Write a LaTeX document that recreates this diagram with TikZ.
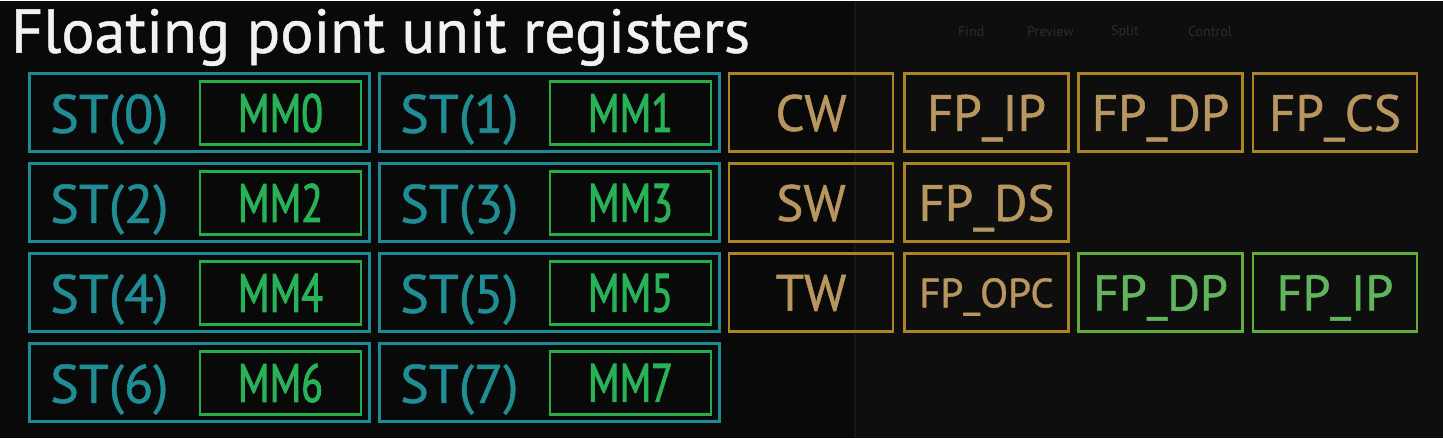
\documentclass[tikz,border=0pt]{standalone}
\usepackage{fontspec}
\setmainfont{PT Sans}
\newfontfamily\mmfont[FakeStretch=0.74,FakeBold=1.6]{PT Sans}
\newfontfamily\regfont[FakeBold=1.0]{PT Sans}
\newfontfamily\titlefont[FakeBold=0.8]{PT Sans}
\definecolor{bgcol}{RGB}{9,9,9}
\definecolor{bgright}{RGB}{14,14,14}
\definecolor{tealbox}{RGB}{30,138,148}
\definecolor{tealtxt}{RGB}{32,140,148}
\definecolor{mmbox}{RGB}{38,172,72}
\definecolor{mmtxt}{RGB}{40,178,88}
\definecolor{orbox}{RGB}{172,132,36}
\definecolor{ortxt}{RGB}{184,150,96}
\definecolor{lgbox}{RGB}{100,172,58}
\definecolor{lgtxt}{RGB}{96,180,92}
\definecolor{ghost}{RGB}{44,44,44}
\tikzset{
  stbox/.style={draw=tealbox,line width=3pt,minimum width=340pt,minimum height=78pt,inner sep=0pt},
  mmreg/.style={draw=mmbox,line width=2.6pt,minimum width=161pt,minimum height=63pt,inner sep=0pt,
     text=mmtxt,text depth=0pt,font=\mmfont\fontsize{54}{54}\selectfont},
  sttext/.style={text=tealtxt,anchor=base west,inner sep=0pt,font=\regfont\fontsize{54}{54}\selectfont},
  orreg/.style={draw=orbox,line width=2.6pt,minimum width=164pt,minimum height=78pt,inner sep=0pt,
     text=ortxt,text depth=0pt,font=\regfont\fontsize{51}{51}\selectfont},
  lgreg/.style={draw=lgbox,line width=2.6pt,minimum width=164pt,minimum height=78pt,inner sep=0pt,
     text=lgtxt,text depth=0pt,font=\regfont\fontsize{50}{50}\selectfont},
  ghosttxt/.style={text=ghost,anchor=west,inner sep=0pt,font=\fontsize{14}{14}\selectfont}
}
\begin{document}
\begin{tikzpicture}[x=1pt,y=-1pt]
\fill[bgcol] (0,0) rectangle (1443,437);
\fill[bgright] (855,0) rectangle (1443,437);
\draw[line width=1.5pt,color={rgb,255:red,22;green,22;blue,22}] (855,0) -- (855,437);
\useasboundingbox (0,0) rectangle (1443,437);

% faint UI ghost
\node[ghosttxt] (gfind) at (958,31) {Find};
\node[ghosttxt] (gprev) at (1027,31) {Preview};
\node[ghosttxt] (gsplit) at (1111,31) {Split};
\node[ghosttxt] (gctrl) at (1188,31) {Control};

% title
\node[anchor=base west,inner sep=0pt,text={rgb,255:red,242;green,242;blue,242},
      font=\titlefont\fontsize{62}{62}\selectfont] (title) at (11,52) {Floating point unit registers};

% ST / MM registers
\foreach \r/\cy in {0/112,1/202,2/292,3/382}{
  \pgfmathtruncatemacro{\a}{2*\r}
  \pgfmathtruncatemacro{\b}{2*\r+1}
  \node[stbox] (st\a) at (199,\cy) {};
  \node[sttext] (stl\a) at (50,\cy+20) {ST(\a)};
  \node[mmreg] (mm\a) at (280.5,\cy) {MM\a};
  \node[stbox] (st\b) at (549,\cy) {};
  \node[sttext] (stl\b) at (400,\cy+20) {ST(\b)};
  \node[mmreg] (mm\b) at (630.5,\cy) {MM\b};
}

% control / status registers
\node[orreg] (cw) at (811,112) {CW};
\node[orreg] (fpip) at (986.5,112) {FP\_IP};
\node[orreg] (fpdp) at (1160.5,112) {FP\_DP};
\node[orreg] (fpcs) at (1335,112) {FP\_CS};
\node[orreg] (sw) at (811,202) {SW};
\node[orreg] (fpds) at (986.5,202) {FP\_DS};
\node[orreg] (tw) at (811,292) {TW};
\node[orreg,font=\regfont\fontsize{41}{41}\selectfont] (fpopc) at (986.5,292) {FP\_OPC};
\node[lgreg] (fpdp2) at (1160.5,292) {FP\_DP};
\node[lgreg] (fpip2) at (1335,292) {FP\_IP};
\end{tikzpicture}
\end{document}
